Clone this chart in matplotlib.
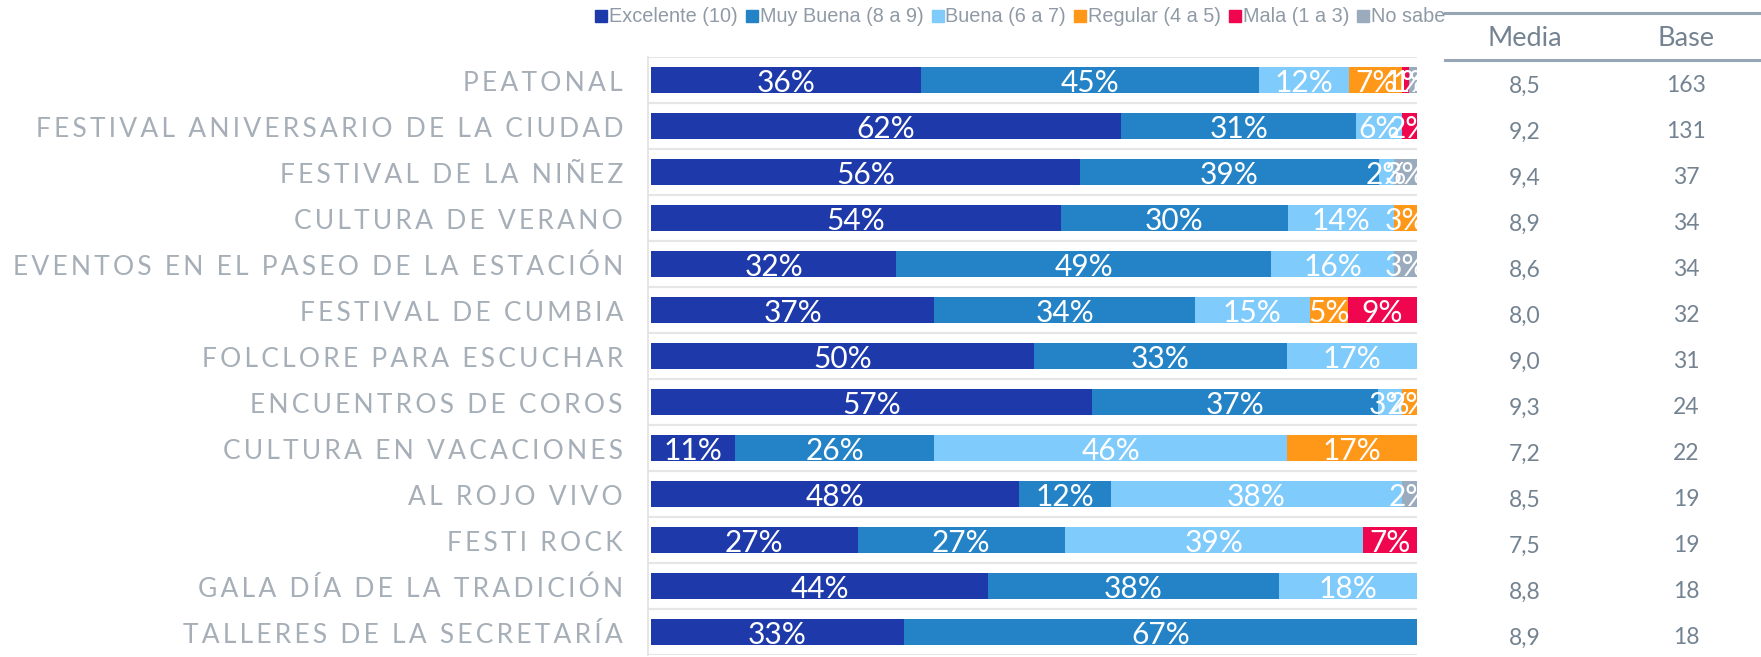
import matplotlib
matplotlib.use("Agg")
import matplotlib.pyplot as plt
from matplotlib.lines import Line2D
from matplotlib import transforms
import numpy as np

# ---------------- data ----------------
categories = [
    "PEATONAL",
    "FESTIVAL ANIVERSARIO DE LA CIUDAD",
    "FESTIVAL DE LA NIÑEZ",
    "CULTURA DE VERANO",
    "EVENTOS EN EL PASEO DE LA ESTACIÓN",
    "FESTIVAL DE CUMBIA",
    "FOLCLORE PARA ESCUCHAR",
    "ENCUENTROS DE COROS",
    "CULTURA EN VACACIONES",
    "AL ROJO VIVO",
    "FESTI ROCK",
    "GALA DÍA DE LA TRADICIÓN",
    "TALLERES DE LA SECRETARÍA",
]
series_names = ["Excelente (10)", "Muy Buena (8 a 9)", "Buena (6 a 7)",
                "Regular (4 a 5)", "Mala (1 a 3)", "No sabe"]
excelente = [36, 62, 56, 54, 32, 37, 50, 57, 11, 48, 27, 44, 33]
muy_buena = [45, 31, 39, 30, 49, 34, 33, 37, 26, 12, 27, 38, 67]
buena     = [12, 6, 2, 14, 16, 15, 17, 3, 46, 38, 39, 18, 0]
regular   = [7, 0, 0, 3, 0, 5, 0, 2, 17, 0, 0, 0, 0]
mala      = [1, 2, 0, 0, 0, 9, 0, 0, 0, 0, 7, 0, 0]
no_sabe   = [1, 0, 3, 0, 3, 0, 0, 0, 0, 2, 0, 0, 0]
media = [8.5, 9.2, 9.4, 8.9, 8.6, 8.0, 9.0, 9.3, 7.2, 8.5, 7.5, 8.8, 8.9]
base = [163, 131, 37, 34, 34, 32, 31, 24, 22, 19, 19, 18, 18]

colors = ["#1E3AAA", "#2383C6", "#7FCBFB", "#FF9718", "#F0064F", "#9AABBD"]

# ---------------- figure ----------------
W, H = 1761, 657
fig = plt.figure(figsize=(W / 100, H / 100), dpi=100)
ax_left, ax_right, ax_top, ax_bottom = 648, 1417, 57, 655
ax = fig.add_axes([ax_left / W, (H - ax_bottom) / H,
                   (ax_right - ax_left) / W, (ax_bottom - ax_top) / H])

series = [excelente, muy_buena, buena, regular, mala, no_sabe]
data = np.array(series, dtype=float)
totals = data.sum(axis=0)
n = len(categories)
y = np.arange(n)
left = np.zeros(n)
for vals, col in zip(data, colors):
    widths = vals / totals
    ax.barh(y, widths, left=left, height=0.57, color=col, zorder=3)
    for i in range(n):
        if vals[i] > 0:
            ax.text(left[i] + widths[i] / 2, y[i] + 0.07, f"{int(vals[i])}%",
                    ha="center", va="center", color="white", fontsize=21.5,
                    family=["Lato", "DejaVu Sans"], zorder=4)
    left += widths

ax.set_xlim(-3 / 766, 1)
ax.set_ylim(n - 0.5, -0.5)
for k in range(n + 1):
    ax.axhline(k - 0.5, color="#E6E6E6", lw=1.6, zorder=1)
for s in ["top", "right", "bottom"]:
    ax.spines[s].set_visible(False)
ax.spines["left"].set_color("#E2E2E2")
ax.spines["left"].set_linewidth(1.2)
ax.set_xticks([])
ax.set_yticks([])

# category labels with letter spacing
ytrans = ax.get_yaxis_transform()
lab_x = (623 - ax_left) / (ax_right - ax_left)
for i, name in enumerate(categories):
    spaced = "\u2009".join(name)
    ax.text(lab_x, y[i] + 0.08, spaced, transform=ytrans, ha="right", va="center",
            fontsize=19, color="#A6AFB8", family=["Lato", "DejaVu Sans"])

# table on the right
tr = transforms.blended_transform_factory(fig.transFigure, ax.transData)
tcol = "#748391"
for i in range(n):
    ax.text(1525 / W, y[i] + 0.13, f"{media[i]:.1f}".replace(".", ","), transform=tr,
            ha="center", va="center", fontsize=16.5, color=tcol,
            family=["Lato", "DejaVu Sans"])
    ax.text(1686 / W, y[i] + 0.13, f"{base[i]}", transform=tr,
            ha="center", va="center", fontsize=16.5, color=tcol,
            family=["Lato", "DejaVu Sans"])
fig.text(1525 / W, 1 - 39 / H, "Media", ha="center", va="center", fontsize=19.5,
         color=tcol, family=["Lato", "DejaVu Sans"])
fig.text(1686 / W, 1 - 39 / H, "Base", ha="center", va="center", fontsize=19.5,
         color=tcol, family=["Lato", "DejaVu Sans"])
for yy in (13, 60):
    fig.add_artist(Line2D([1445 / W, 1.0], [1 - yy / H, 1 - yy / H],
                          transform=fig.transFigure, color="#97A6B5", lw=2.2))

# legend
handles = [Line2D([], [], marker="s", linestyle="none", markersize=8,
                  markerfacecolor=c, markeredgecolor=c) for c in colors]
leg = fig.legend(handles, series_names, loc="center",
                 bbox_to_anchor=(1021 / W, 1 - 17 / H), ncol=6,
                 frameon=False, handlelength=0.5, handletextpad=0.15,
                 columnspacing=0.45, borderaxespad=0, borderpad=0,
                 prop={"family": ["Liberation Sans", "DejaVu Sans"], "size": 14.3})
for t in leg.get_texts():
    t.set_color("#8F9AA6")

fig.savefig("out.png", dpi=100)
